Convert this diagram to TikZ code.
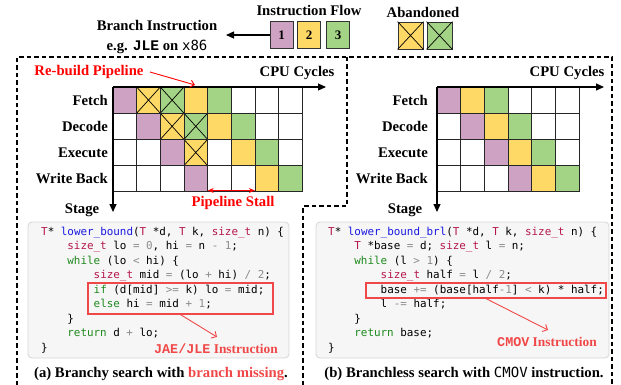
\documentclass[tikz,border=0pt]{standalone}
\usepackage{fontspec}
\setmainfont{Liberation Serif}
\newfontfamily\codefont{DejaVu Sans Mono}
\newfontfamily\ttlabel{Liberation Mono}
\newfontfamily\ttlight{DejaVu Sans Mono}
\usetikzlibrary{arrows.meta}

\definecolor{cellP}{HTML}{CDA2C3}
\definecolor{cellY}{HTML}{FFD966}
\definecolor{cellG}{HTML}{A3D384}
\definecolor{alert}{HTML}{FF0000}
\definecolor{alertsoft}{HTML}{F04848}
\definecolor{codebg}{HTML}{F6F6F6}
\definecolor{codeframe}{HTML}{D6D6D6}
\definecolor{ctype}{HTML}{B5174F}
\definecolor{cfunc}{HTML}{1A1AE0}
\definecolor{ckey}{HTML}{1E8A1E}
\definecolor{cop}{HTML}{8C8C8C}

% syntax colouring for the listings
\newcommand\codeT[1]{\textcolor{ctype}{#1}}
\newcommand\codeF[1]{\textcolor{cfunc}{#1}}
\newcommand\codeK[1]{\textcolor{ckey}{#1}}
\newcommand\codeO[1]{\textcolor{cop}{#1}}

\tikzset{
  lbl/.style={inner sep=0, font={\fontsize{14.7pt}{17pt}\selectfont\bfseries}},
  redlbl/.style={inner sep=0, text=alertsoft, font={\fontsize{13.4pt}{16pt}\selectfont\bfseries}},
  codeline/.style={anchor=base west, inner sep=0, font={\codefont\fontsize{10.9pt}{13pt}\selectfont}},
  codebox/.style={draw=codeframe, fill=codebg, rounded corners=4pt, line width=0.8pt, inner sep=0},
  redbox/.style={draw=alertsoft, line width=1.2pt, inner sep=0},
  redarrow/.style={draw=alertsoft, line width=0.9pt, -{Straight Barb[length=4pt,width=8pt]}},
  gridline/.style={draw=black!85, line width=0.8pt},
  axis/.style={line width=1.1pt, -{Triangle[length=8pt,width=7pt]}},
  legbox/.style={draw=black!80, line width=0.9pt, minimum width=23pt, minimum height=26.5pt, inner sep=0,
                 font={\fontsize{13pt}{15pt}\selectfont\bfseries}},
  panelborder/.style={line width=1.1pt, dash pattern=on 4.5pt off 3pt},
}

\begin{document}
\begin{tikzpicture}[x=1pt, y=-1pt]
\useasboundingbox (0,0) rectangle (621,385);

% ---------- legend ----------
\node[lbl, anchor=base] (flowtitle) at (309,16) {Instruction Flow};
\node[legbox, fill=cellP] (f1) at (281.5,35) {1};
\node[legbox, fill=cellY] (f2) at (309,35) {2};
\node[legbox, fill=cellG] (f3) at (338,35) {3};

\node[lbl, anchor=base] (abtitle) at (423,18) {Abandoned};
\node[legbox, fill=cellY, minimum width=25pt, minimum height=27pt] (ab1) at (410.5,35.5) {};
\node[legbox, fill=cellG, minimum width=25pt, minimum height=27pt] (ab2) at (439.5,35.5) {};
\foreach \b in {ab1,ab2} {
  \draw[line width=0.7pt] (\b.north west) -- (\b.south east) (\b.north east) -- (\b.south west);
}

\node[lbl, anchor=base] (brtitle) at (157,30.5) {Branch Instruction};
\node[lbl, anchor=base] (brnote) at (157,51) {e.g. {\ttlabel\bfseries JLE} on {\ttlight\mdseries\fontsize{14pt}{17pt}\selectfont x86}};
\coordinate (brtip) at (226,35);
\draw[line width=1.1pt, -{Triangle[length=8pt,width=7pt]}] (f1.west) -- (brtip);

% ---------- panel borders ----------
\draw[panelborder] (17,385) -- (17,57) -- (612,57) -- (612,385);
\draw[panelborder] (347,57) -- (347,206) -- (303,206) -- (303,385);

% ---------- left pipeline (branch miss) ----------
\def\cw{23.65}
\def\rh{26.2}
\foreach \c/\r/\col in {0/0/cellP,1/0/cellY,2/0/cellG,3/0/cellY,4/0/cellG,
                        1/1/cellP,2/1/cellY,3/1/cellG,4/1/cellY,5/1/cellG,
                        2/2/cellP,3/2/cellY,5/2/cellY,6/2/cellG,
                        3/3/cellP,6/3/cellY,7/3/cellG} {
  \fill[\col] ({113+\c*\cw},{87+\r*\rh}) rectangle ++(\cw,\rh);
}
\foreach \c/\r in {1/0,2/0,2/1,3/1,3/2} {
  \draw[line width=0.7pt] ({113+\c*\cw},{87+\r*\rh}) -- ++(\cw,\rh)
                          ({113+(\c+1)*\cw},{87+\r*\rh}) -- ++(-\cw,\rh);
}
\foreach \i in {1,...,8} \draw[gridline] ({113+\i*\cw},87) -- ({113+\i*\cw},{87+4*\rh});
\foreach \j in {1,...,4} \draw[gridline] (113,{87+\j*\rh}) -- ({113+8*\cw},{87+\j*\rh});

\coordinate (oa) at (113,87);
\coordinate (xa) at (326,87);
\coordinate (ya) at (113,212);
\draw[axis] (oa) -- (xa);
\draw[axis] (oa) -- (ya);

\node[lbl, anchor=base] (cyca) at (297,77) {CPU Cycles};
\node[lbl, anchor=base east] (fa) at (108,105.3) {Fetch};
\node[lbl, anchor=base east] (da) at (108,131.5) {Decode};
\node[lbl, anchor=base east] (ea) at (108,157.7) {Execute};
\node[lbl, anchor=base east] (wa) at (108,183.9) {Write Back};
\node[lbl, anchor=base] (sa) at (82,213) {Stage};

\node[lbl, anchor=base, text=alert] (rebuild) at (89,76) {Re-build Pipeline};
\coordinate (rbstart) at (150,72);
\coordinate (rbend) at (195,85);
\draw[alert, line width=0.9pt, -{Straight Barb[length=4pt,width=7pt]}] (rbstart) -- (rbend);

\coordinate (stallL) at (207.7,190.5);
\coordinate (stallR) at (254.9,190.5);
\draw[alert, line width=1.1pt, {Stealth[length=6pt,width=5pt]}-{Stealth[length=6pt,width=5pt]}] (stallL) -- (stallR);
\node[lbl, anchor=base, text=alert] (stall) at (233,206.5) {Pipeline Stall};

% ---------- right pipeline (branchless) ----------
\foreach \c/\r/\col in {0/0/cellP,1/0/cellY,2/0/cellG,
                        1/1/cellP,2/1/cellY,3/1/cellG,
                        2/2/cellP,3/2/cellY,4/2/cellG,
                        3/3/cellP,4/3/cellY,5/3/cellG} {
  \fill[\col] ({437+\c*\cw},{87+\r*\rh}) rectangle ++(\cw,\rh);
}
\foreach \i in {1,...,6} \draw[gridline] ({437+\i*\cw},87) -- ({437+\i*\cw},{87+4*\rh});
\foreach \j in {1,...,4} \draw[gridline] (437,{87+\j*\rh}) -- ({437+6*\cw},{87+\j*\rh});

\coordinate (ob) at (437,87);
\coordinate (xb) at (604,87);
\coordinate (yb) at (437,212);
\draw[axis] (ob) -- (xb);
\draw[axis] (ob) -- (yb);

\node[lbl, anchor=base] (cycb) at (567,77) {CPU Cycles};
\node[lbl, anchor=base east] (fb) at (428,105.3) {Fetch};
\node[lbl, anchor=base east] (db) at (428,131.5) {Decode};
\node[lbl, anchor=base east] (eb) at (428,157.7) {Execute};
\node[lbl, anchor=base east] (wb) at (428,183.9) {Write Back};
\node[lbl, anchor=base] (sb) at (405,213) {Stage};

% ---------- listing: branchy search ----------
\node[codebox, minimum width=261pt, minimum height=136pt] (codea) at (158.5,290) {};
\node[codeline] (la1) at (41,235)    {\codeT{T}* \codeF{lower\_bound}(\codeT{T} *d, \codeT{T} k, \codeT{size\_t} n) \{};
\node[codeline] (la2) at (67.2,249.5) {\codeT{size\_t} lo \codeO{=} \codeO{0}, hi \codeO{=} n \codeO{-} \codeO{1};};
\node[codeline] (la3) at (67.2,264)   {\codeK{while} (lo \codeO{<} hi) \{};
\node[codeline] (la4) at (93.5,278.5) {\codeT{size\_t} mid \codeO{=} (lo \codeO{+} hi) \codeO{/} \codeO{2};};
\node[codeline] (la5) at (93.5,293)   {\codeK{if} (d[mid] \codeO{>=} k) lo \codeO{=} mid;};
\node[codeline] (la6) at (93.5,307.5) {\codeK{else} hi \codeO{=} mid \codeO{+} \codeO{1};};
\node[codeline] (la7) at (67.2,322)   {\}};
\node[codeline] (la8) at (67.2,336.5) {\codeK{return} d \codeO{+} lo;};
\node[codeline] (la9) at (41,351)    {\}};

\node[redbox, minimum width=185pt, minimum height=31pt] (boxa) at (180.5,298.5) {};
\coordinate (tipa) at (217,337);
\draw[redarrow] (boxa.south) -- (tipa);
\node[redlbl, anchor=base] (jlbl) at (216,353) {{\ttlabel\bfseries JAE/JLE} Instruction};

\node[lbl, anchor=base] (capa) at (161,377.5) {(a) Branchy search with \textcolor{alertsoft}{branch missing}.};

% ---------- listing: branchless search ----------
\node[codebox, minimum width=293pt, minimum height=136pt] (codeb) at (462.5,290) {};
\node[codeline] (lb1) at (328,235)    {\codeT{T}* \codeF{lower\_bound\_brl}(\codeT{T} *d, \codeT{T} k, \codeT{size\_t} n) \{};
\node[codeline] (lb2) at (354.2,249.5) {\codeT{T} *base \codeO{=} d; \codeT{size\_t} l \codeO{=} n;};
\node[codeline] (lb3) at (354.2,264)   {\codeK{while} (l \codeO{>} \codeO{1}) \{};
\node[codeline] (lb4) at (380.5,278.5) {\codeT{size\_t} half \codeO{=} l \codeO{/} \codeO{2};};
\node[codeline] (lb5) at (380.5,293)   {base \codeO{+=} (base[half\codeO{-}\codeO{1}] \codeO{<} k) * half;};
\node[codeline] (lb6) at (380.5,307.5) {l \codeO{-=} half;};
\node[codeline] (lb7) at (354.2,322)   {\}};
\node[codeline] (lb8) at (354.2,336.5) {\codeK{return} base;};
\node[codeline] (lb9) at (328,351)    {\}};

\node[redbox, minimum width=240pt, minimum height=15pt] (boxb) at (486,290.5) {};
\coordinate (tipb) at (548,330);
\draw[redarrow] (boxb.south) -- (tipb);
\node[redlbl, anchor=base] (clbl) at (547,346) {{\ttlabel\bfseries CMOV} Instruction};

\node[lbl, anchor=base] (capb) at (464,377.5) {(b) Branchless search with {\ttlight\mdseries\fontsize{14pt}{17pt}\selectfont CMOV} instruction.};
\end{tikzpicture}
\end{document}
